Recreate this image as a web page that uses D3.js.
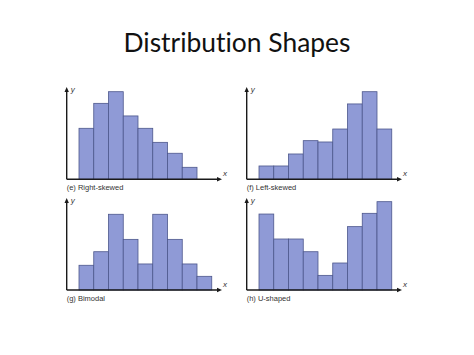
<!DOCTYPE html>
<html><head><meta charset="utf-8">
<script src="https://cdn.jsdelivr.net/npm/d3@7"></script>
<style>html,body{margin:0;padding:0;background:#fff;}svg{display:block;}text{font-variant-ligatures:none;font-feature-settings:"liga" 0;}</style>
</head><body>
<script>
const title = "Distribution Shapes";
const panelLabels = ["(e) Right-skewed", "(f) Left-skewed", "(g) Bimodal", "(h) U-shaped"];
const rightSkewed = [4.25, 6.33, 7.3, 5.28, 4.25, 3.08, 2.17, 1.0];
const leftSkewed = [1.11, 1.11, 2.11, 3.22, 3.11, 4.19, 6.28, 7.3, 4.19];
const bimodal = [2.06, 3.19, 6.31, 4.22, 2.17, 6.31, 4.22, 2.17, 1.14];
const uShaped = [6.33, 4.25, 4.25, 3.19, 1.22, 2.25, 5.28, 6.39, 7.36];
const axisLabels = ["x", "y"];

const W = 474, H = 355;
const svg = d3.select("body").append("svg").attr("width", W).attr("height", H);

const t = svg.append("text").attr("x", 237).attr("y", 52).attr("text-anchor", "middle")
  .attr("font-family", "Lato, 'Open Sans', sans-serif").attr("font-size", 26).attr("fill", "#111").text(title);
const tw = t.node().getComputedTextLength();
t.attr("font-size", 26 * 227 / tw);

const panels = [
  {data: rightSkewed, x0: 66.7, base: 179.3, top: 87, label: panelLabels[0], xEnd: 222},
  {data: leftSkewed, x0: 246.7, base: 179.3, top: 87, label: panelLabels[1], xEnd: 402},
  {data: bimodal, x0: 66.7, base: 290, top: 198, label: panelLabels[2], xEnd: 222},
  {data: uShaped, x0: 246.7, base: 290, top: 198, label: panelLabels[3], xEnd: 402}
];

const barStart = 12.3, barW = 14.75;
const font = "'Liberation Sans Narrow', 'Liberation Sans', Arial, sans-serif";

panels.forEach(p => {
  const g = svg.append("g");
  const n = p.data.length;
  const x = d3.scaleBand().domain(d3.range(n)).range([p.x0 + barStart, p.x0 + barStart + n * barW]).padding(0);
  const y = d3.scaleLinear().domain([0, 7.5]).range([p.base, p.base - 90]);
  g.selectAll("rect").data(p.data).join("rect")
    .attr("x", (d, i) => x(i)).attr("y", d => y(d))
    .attr("width", x.bandwidth()).attr("height", d => y(0) - y(d))
    .attr("fill", "#8f9ad6").attr("stroke", "#4d578c").attr("stroke-width", 0.8);
  g.append("line").attr("x1", p.x0).attr("x2", p.x0).attr("y1", p.base).attr("y2", p.top + 3)
    .attr("stroke", "#1a1a1a").attr("stroke-width", 1.4);
  g.append("line").attr("x1", p.x0).attr("x2", p.xEnd - 3).attr("y1", p.base).attr("y2", p.base)
    .attr("stroke", "#1a1a1a").attr("stroke-width", 1.4);
  g.append("path").attr("d", `M${p.x0},${p.top} L${p.x0 - 2.2},${p.top + 5} L${p.x0 + 2.2},${p.top + 5}Z`).attr("fill", "#1a1a1a");
  g.append("path").attr("d", `M${p.xEnd},${p.base} L${p.xEnd - 5},${p.base - 2.2} L${p.xEnd - 5},${p.base + 2.2}Z`).attr("fill", "#1a1a1a");
  g.append("text").attr("x", p.x0 + 4).attr("y", p.top + 5).attr("font-family", font).attr("font-style", "italic")
    .attr("font-size", 8).attr("fill", "#333").text(axisLabels[1]);
  g.append("text").attr("x", p.xEnd + 1).attr("y", p.base - 3).attr("font-family", font).attr("font-style", "italic")
    .attr("font-size", 8).attr("fill", "#333").text(axisLabels[0]);
  g.append("text").attr("x", p.x0).attr("y", p.base + 11).attr("font-family", font)
    .attr("font-size", 7.5).attr("fill", "#333").text(p.label);
});
</script>
</body></html>
